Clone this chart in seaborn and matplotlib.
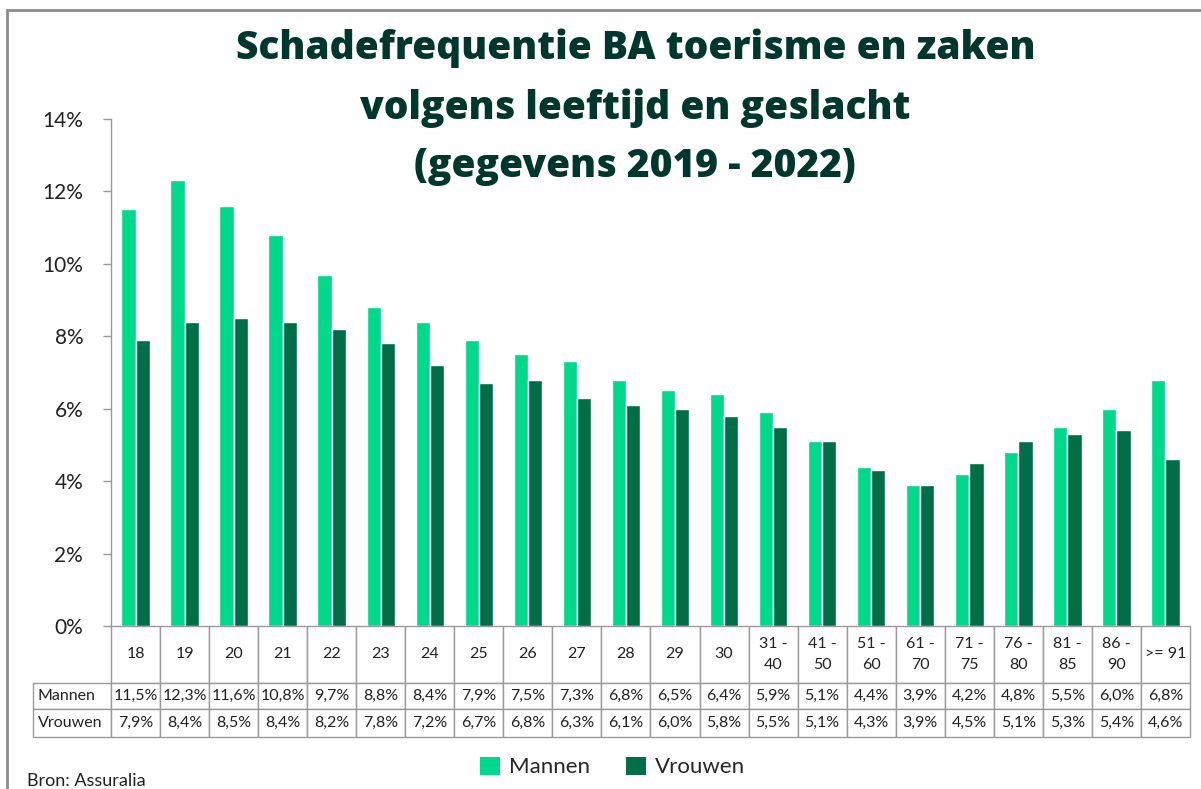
import numpy as np
import pandas as pd
import matplotlib
matplotlib.use('Agg')
import matplotlib.pyplot as plt
import seaborn as sns
from matplotlib.patches import Rectangle, Patch

# ---- data ----
leeftijd = ['18', '19', '20', '21', '22', '23', '24', '25', '26', '27', '28', '29', '30',
            '31 -\n40', '41 -\n50', '51 -\n60', '61 -\n70', '71 -\n75', '76 -\n80',
            '81 -\n85', '86 -\n90', '>= 91']
mannen = [11.5, 12.3, 11.6, 10.8, 9.7, 8.8, 8.4, 7.9, 7.5, 7.3, 6.8, 6.5, 6.4,
          5.9, 5.1, 4.4, 3.9, 4.2, 4.8, 5.5, 6.0, 6.8]
vrouwen = [7.9, 8.4, 8.5, 8.4, 8.2, 7.8, 7.2, 6.7, 6.8, 6.3, 6.1, 6.0, 5.8,
           5.5, 5.1, 4.3, 3.9, 4.5, 5.1, 5.3, 5.4, 4.6]
reeksen = ['Mannen', 'Vrouwen']
kleuren = {'Mannen': '#00D98B', 'Vrouwen': '#006E46'}
titel = 'Schadefrequentie BA toerisme en zaken\nvolgens leeftijd en geslacht\n(gegevens 2019 - 2022)'

df = pd.DataFrame({
    'leeftijd': leeftijd * 2,
    'geslacht': ['Mannen'] * len(leeftijd) + ['Vrouwen'] * len(leeftijd),
    'waarde': mannen + vrouwen,
})

sns.set_theme(style='white')
plt.rcParams['font.family'] = ['Lato', 'DejaVu Sans']

W, H = 1201, 789
fig = plt.figure(figsize=(W / 100, H / 100), dpi=100)
ax = fig.add_axes([111 / W, 1 - 626 / H, (1190 - 111) / W, (626 - 118.7) / H])

sns.barplot(data=df, x='leeftijd', y='waarde', hue='geslacht', palette=kleuren,
            width=0.58, gap=0, saturation=1, ax=ax, legend=False)

ax.set_ylim(0, 14)
ax.set_xlim(-0.5, len(leeftijd) - 0.5)
ax.set_yticks(np.arange(0, 15, 2))
ax.set_yticklabels([f'{v}%' for v in range(0, 15, 2)], fontsize=15, color='#222222')
ax.tick_params(axis='y', length=6, width=1, color='#999999', pad=14, left=True)
ax.set_xticks([])
ax.set_xlabel('')
ax.set_ylabel('')
for s in ['top', 'right', 'bottom']:
    ax.spines[s].set_visible(False)
ax.spines['left'].set_color('#999999')
ax.spines['left'].set_linewidth(1)

# data table under the bars
rows = [[''] + leeftijd,
        ['Mannen'] + [f'{v:.1f}%'.replace('.', ',') for v in mannen],
        ['Vrouwen'] + [f'{v:.1f}%'.replace('.', ',') for v in vrouwen]]
ax_h = 626 - 118.7
col_w = [78] + [49.05] * len(leeftijd)
tbl = ax.table(cellText=rows, colWidths=col_w, cellLoc='center',
               bbox=[-78 / 1079, -(737 - 626) / ax_h, (1079 + 78) / 1079, (737 - 626) / ax_h])
tbl.auto_set_font_size(False)
row_h = [56, 26, 28]
for (r, c), cell in tbl.get_celld().items():
    cell.set_height(row_h[r])
    cell.set_edgecolor('#9A9A9A')
    cell.set_linewidth(1)
    cell.get_text().set_fontsize(11.5)
    cell.get_text().set_color('#222222')
    if r == 0:
        cell.get_text().set_linespacing(1.6)
    if c == 0:
        cell.get_text().set_ha('left')
        cell.PAD = 0.06
tbl[0, 0].visible_edges = 'open'
for r in (1, 2):
    tbl[r, 0]._loc = 'left'

# title
fig.text(0.529, 1 - 29 / H, titel, ha='center', va='top', fontsize=28,
         fontweight='heavy', color='#00372D', linespacing=1.65,
         family=['Open Sans', 'DejaVu Sans'])

# legend
handles = [Patch(facecolor=kleuren[k], edgecolor='none', label=k) for k in reeksen]
fig.legend(handles=handles, loc='center', bbox_to_anchor=(0.51, 1 - 767 / H), ncol=2,
           frameon=False, fontsize=16, handlelength=0.9, handleheight=0.9,
           handletextpad=0.4, columnspacing=1.6)

fig.text(27 / W, 1 - 781 / H, 'Bron: Assuralia', ha='left', va='center',
         fontsize=13, color='#222222')

# frame around the chart
fig.patches.append(Rectangle((7 / W, -0.1), 1.2, 1 - 10 / H + 0.1, transform=fig.transFigure,
                             fill=False, edgecolor='#8C8C8C', linewidth=2))

fig.savefig('out.png', dpi=100)
